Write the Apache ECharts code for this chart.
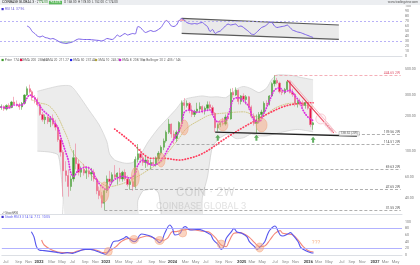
<!DOCTYPE html>
<html>
<head>
<meta charset="utf-8">
<title>COIN 2W</title>
<script src="https://cdn.jsdelivr.net/npm/echarts@6.0.0/dist/echarts.min.js"></script>
<style>
html,body{margin:0;padding:0;background:#ffffff;overflow:hidden;}
#chart{width:420px;height:265px;}
</style>
</head>
<body>
<div id="chart"></div>
<script>
// ================= DATA =================
const startDate = '2021-06-21';          // first 2-week bar
const categoryCount = 156;               // bars incl. future space
const categories = (function () {
  const out = [];
  const t0 = Date.parse(startDate + 'T00:00:00Z');
  for (let i = 0; i < categoryCount; i++) out.push(new Date(t0 + i * 14 * 86400000).toISOString().slice(0, 10));
  return out;
})();
const monthNames = ['Jan','Feb','Mar','Apr','May','Jun','Jul','Aug','Sep','Oct','Nov','Dec'];

// 2W candles
const opens = [235,240,228,245,235,262,252,248,238,255, 300,340,320,285,275,248,205,185,195,178,
  190,170,160,125,98,68,62,50,58,88, 78,66,70,65,68,64,66,58,46,42,
  36,46,58,55,63,60,65,58,66,58, 52,55,50,85,95,88,80,84,77,80,
  78,86,96,108,122,145,170,140,128,145, 175,258,245,255,222,205,218,228,240,222,
  232,248,235,210,158,168,172,170,195,188, 315,300,330,265,295,275,290,238,198,172,
  180,205,215,255,250,295,375,400,380,320, 315,335,390,315,305,255,265,255,245,258, 232,168];
const highs = [250,245,250,255,268,290,270,258,262,305, 355,368,330,300,285,260,215,205,200,198,
  205,185,165,130,102,82,70,62,102,116, 84,74,78,72,74,72,70,60,50,45,
  48,62,68,66,76,66,72,68,70,62, 58,60,90,115,105,92,90,88,85,88,
  90,100,112,128,150,187,172,150,150,180, 270,283,270,262,245,225,258,260,245,240,
  265,265,245,215,172,178,192,205,210,340, 345,349,335,300,310,300,295,245,210,205,
  215,225,265,270,300,385,444.65,420,390,335, 345,402,400,340,310,275,280,270,265,262, 238,178];
const lows = [225,220,222,230,232,245,240,225,225,250, 295,310,270,255,240,200,178,170,170,160,
  165,150,120,90,41,55,41,46,55,70, 62,60,62,58,60,56,55,43,39,33,
  31.55,44,52,52,58,52,55,55,56,50, 47,46,48,80,82,75,72,74,70,75,
  74,82,92,102,118,140,130,115,120,138, 170,225,235,210,195,195,210,215,210,205,
  222,225,200,145,147,160,165,165,180,185, 285,295,250,250,260,250,225,190,165,142.6,
  172,195,205,240,245,290,355,370,310,300, 305,330,310,290,240,235,245,235,230,225, 160,152];
const closes = [240,228,245,235,262,252,248,238,255,300, 340,320,285,275,248,205,185,195,178,190,
  170,160,125,98,68,62,50,58,88,78, 66,70,65,68,64,66,58,46,42,36,
  46,58,55,63,60,65,58,66,58,52, 55,50,85,95,88,80,84,77,80,78,
  86,96,108,122,145,170,140,128,145,175, 258,245,255,222,205,218,228,240,222,232,
  248,235,210,158,168,172,170,195,188,315, 300,330,265,295,275,290,238,198,172,180,
  205,215,255,250,295,375,400,380,320,315, 335,390,315,305,255,265,255,245,258,232, 168,174];

// overlay lines: [barIndex, price]
const emaFast = [[0,237],[3,233],[5,247],[8,247],[10,283],[11,300],[13,283],[14,262],[16,225],[19,195],[22,157],[23,133],
  [25,98],[26,84],[27,65],[28,61],[30,69],[33,73],[35,69],[37,57],[39,50],[41,47],[43,55],[45,59],[47,61],[50,59],
  [52,65],[53,76],[55,84],[56,81],[59,76],[61,79],[63,89],[64,98],[66,117],[68,137],[70,167],[71,214],[73,224],
  [76,214],[78,218],[81,224],[82,205],[84,178],[86,178],[88,200],[90,275],[92,285],[94,268],[96,240],[98,185],
  [100,178],[102,212],[104,265],[106,330],[108,345],[110,320],[112,330],[114,295],[116,258],[117,225],[119,195],[121,182]];
const smaMid = [[12,272],[15,257],[18,247],[20,226],[22,195],[24,157],[26,124],[27,105],[29,89],[32,76],[34,65],[38,55],
  [42,50],[46,52],[49,55],[53,61],[57,69],[60,76],[63,84],[64,93],[67,113],[69,129],[72,157],[77,184],[81,203],
  [88,212],[94,216],[100,195],[107,237],[113,256],[121,237]];
const maLong = [[44,154],[48,132],[52,111],[55,95],[58,87],[63,87],[69,84],[73,87],[77,93],[81,104],[85,120],[89,137],
  [94,160],[99,184],[104,211],[109,237],[113,250],[117,256],[121,258]];
const bbUpper = [[14,323],[19,345],[23,360],[27,358],[30,300],[34,224],[38,167],[41,120],[42,95],[44,84],[48,79],[51,80],
  [54,93],[57,120],[61,157],[65,195],[68,230],[70,262],[72,280],[75,289],[78,295],[81,289],[84,290],[87,285],[89,305],
  [91,335],[94,355],[97,340],[100,315],[103,345],[105,410],[107,445],[110,445],[113,440],[116,425],[121,405]];
const bbLower = [[14,100],[19,98],[22,93],[23,70],[24,40],[25,20],[52,20],[53,38],[55,46],[57,47],[59,48],[61,44],[62,30],
  [63,15],[77,15],[78,40],[80,60],[82,110],[85,130],[88,140],[91,128],[94,130],[97,140],[100,135],[103,135],[106,140],
  [109,145],[112,150],[115,153],[118,150],[121,146]];

// horizontal levels
const levelValues = [444.65, 139.56, 114.51, 69.63, 47.65, 31.55];
const levelStarts = [106, 138, 68, 54, 48, 40];
// current-value tags on the price scale
const tagValues = [258, 237.5, 208, 174];
const tagTexts = ['258.04', '237.44', '208.18', '174.00'];

// drawings on the price pane
const supportLine = [[83,145],[138,134.5]];
const downTrend = [[111,402],[129,143]];
const circleMarks = [[40,44.9],[52,60.2],[62,84],[71,159],[86,167],[101,167]];
const pinkCircle = [[124,188]];
const arrowMarks = [[84,130],[99,130],[121,125]];
const supportTag = [[135,141]];

// RSI (14)
const rsi = [[10,60],[11,57],[12,49],[13,45],[14,40],[15,38],[16,40],[17,37],[18,36],[19,34],[20,35],[21,33],[22,30],
  [23,27],[24,26],[25,25],[26,26],[27,27],[28,29],[29,32],[30,34],[32,33],[34,33],[36,32],[38,31],[39,30],[40,32],
  [41,35],[43,33],[44,36],[45,42],[46,39],[48,45],[49,42],[51,45],[52,44],[53,59],[54,57],[55,51],[56,47],[58,51],
  [59,49],[60,50],[62,57],[63,65],[64,71],[65,67],[66,60],[67,59],[68,62],[69,71],[70,75],[71,72],[72,67],[73,65],
  [74,64],[75,65],[76,64],[77,66],[78,67],[79,63],[80,59],[81,49],[82,53],[83,45],[84,48],[85,50],[86,55],[88,64],
  [89,62],[90,63],[91,64],[92,59],[93,60],[95,53],[96,49],[97,44],[98,43],[99,47],[100,52],[101,57],[102,59],[103,62],
  [104,67],[105,67],[106,60],[107,57],[108,58],[109,59],[110,60],[111,62],[112,57],[113,52],[114,50],[115,48],[116,47],
  [117,45],[118,43],[119,41],[120,39],[121,37]];
const rsiChannelTop = [[70,75.4],[131,62]];
const rsiChannelBottom = [[70,45.4],[131,33.4]];

// Stochastic RSI
const stochK = [[11,70],[12,55],[13,25],[14,15],[16,13],[19,10],[21,8],[23,5],[25,7],[27,5],[28,7],[30,13],[32,17],[34,17],
  [36,13],[38,7],[40,2],[41,10],[42,25],[43,40],[45,43],[47,50],[48,55],[49,50],[51,40],[52,43],[53,57],[54,63],[56,60],
  [58,55],[60,43],[61,37],[62,45],[63,65],[65,90],[66,80],[67,60],[69,65],[70,80],[71,85],[73,75],[76,77],[78,73],[80,65],
  [81,60],[82,45],[84,30],[85,17],[86,25],[87,50],[89,70],[90,80],[91,70],[93,65],[95,55],[96,40],[98,25],[99,17],[100,23],
  [102,40],[103,60],[104,75],[106,87],[107,75],[108,60],[109,57],[111,63],[112,67],[113,60],[115,40],[116,23],[118,13],
  [120,7],[121,6]];
const stochD = [[15,45],[16,30],[19,15],[23,7],[27,7],[29,12],[32,17],[34,17],[37,13],[39,7],[41,10],[44,25],[46,40],[49,50],
  [51,47],[54,53],[56,57],[59,50],[62,43],[64,50],[66,70],[67,70],[69,73],[72,77],[75,75],[77,72],[80,70],[81,65],[83,50],
  [85,30],[87,25],[88,40],[90,65],[92,67],[94,63],[96,53],[98,37],[100,25],[102,27],[104,45],[106,65],[108,73],[109,65],
  [111,63],[113,60],[115,45],[117,25],[119,13],[121,9]];
const stochCircles = [[41,10.5],[51,46.5],[61,43.5],[70,66],[85,33],[100,22.5]];
const stochNote = [[122,37]];

// ================= CHART =================
const FONT = 'Roboto, "Noto Sans", "DejaVu Sans", sans-serif';
const chart = echarts.init(document.getElementById('chart'), null, {renderer: 'canvas', width: 420, height: 265});
const lastCat = categories[categoryCount - 1];
const candles = opens.map((o, i) => [o, closes[i], lows[i], highs[i]]);

function xAxisFor(gi, withLabels) {
  return {
    type: 'category', gridIndex: gi, data: categories, boundaryGap: true,
    axisLine: {show: true, lineStyle: {color: '#dcdfe4', width: 1}},
    axisTick: {show: false}, splitLine: {show: false},
    axisLabel: withLabels ? {
      interval: (idx, val) => { const m = +val.slice(5, 7), d = +val.slice(8, 10); return (m % 2 === 1) && d <= 14; },
      formatter: (val) => { const m = +val.slice(5, 7); return m === 1 ? '{y|' + val.slice(0, 4) + '}' : monthNames[m - 1]; },
      rich: {y: {fontWeight: 'bold', color: '#444', fontSize: 4, fontFamily: FONT}},
      fontSize: 4, color: '#8a8a8a', margin: 2, fontFamily: FONT
    } : {show: false}
  };
}
const yLabel = {fontSize: 3.5, color: '#777', margin: 3, fontFamily: FONT};

function dotted(name, data, color, width, dash, z) {
  return {type: 'line', name, xAxisIndex: 1, yAxisIndex: 1, data, symbol: 'none', smooth: 0.35, silent: true, z: z || 3,
    lineStyle: {color, width, type: dash, cap: 'round'}};
}
function segment(data, color, width, xi, yi) {
  return {type: 'line', xAxisIndex: xi, yAxisIndex: yi, data, symbol: 'none', silent: true, z: 5,
    lineStyle: {color, width}};
}
function tag(v, text, bg, fg) {
  return {yAxis: v, lineStyle: {opacity: 0}, label: {show: true, position: 'end', formatter: text, fontSize: 3.4, color: fg,
    backgroundColor: bg, padding: [0.6, 1.2], distance: 1.5, fontFamily: FONT}};
}

const mainCircleSizes = [[9,20],[8,19],[8,14],[8,15],[10,12],[11,14]];
const stochCircleSizes = [[8,8],[9,8],[9,8],[8,8],[8,8],[8,9]];
const tagColors = [['#f6d5dc','#c0304c'], ['#f1ecb6','#6b6320'], ['#e58ae9','#ffffff'], ['#e9e86a','#333300']];

const option = {
  animation: false,
  backgroundColor: '#ffffff',
  textStyle: {fontFamily: FONT},
  grid: [
    {left: 0, right: 18, top: 6, height: 50},
    {left: 0, right: 18, top: 58, height: 156},
    {left: 0, right: 18, top: 214, height: 44}
  ],
  xAxis: [xAxisFor(0, false), xAxisFor(1, false), xAxisFor(2, true)],
  yAxis: [
    {type: 'value', gridIndex: 0, position: 'right', min: 0, max: 100, interval: 10, axisLabel: yLabel,
      splitLine: {show: false}, axisLine: {show: false}, axisTick: {show: false}},
    {type: 'log', logBase: 2, gridIndex: 1, position: 'right', min: 29.17, max: 620.4,
      axisLabel: Object.assign({}, yLabel, {customValues: [40, 60, 100, 200, 300, 500], formatter: v => (+v).toFixed(2)}),
      splitLine: {show: false}, axisLine: {show: false}, axisTick: {show: false}},
    {type: 'value', gridIndex: 2, position: 'right', min: -9, max: 123,
      axisLabel: Object.assign({}, yLabel, {customValues: [0, 20, 40, 60, 80, 100]}),
      splitLine: {show: false}, axisLine: {show: false}, axisTick: {show: false}}
  ],
  series: [
    // ---------- RSI pane ----------
    {type: 'custom', xAxisIndex: 0, yAxisIndex: 0, z: 1, silent: true, clip: true, data: [[0, 50]],
      renderItem: (params, api) => {
        const t = rsiChannelTop.map(p => api.coord(p));
        const b = rsiChannelBottom.map(p => api.coord(p));
        return {type: 'group', children: [
          {type: 'polygon', shape: {points: [t[0], t[1], b[1], b[0]]}, style: {fill: 'rgba(190,190,190,0.32)'}},
          {type: 'line', shape: {x1: t[0][0], y1: t[0][1], x2: t[1][0], y2: t[1][1]}, style: {stroke: '#5a5a5a', lineWidth: 1.2}},
          {type: 'line', shape: {x1: b[0][0], y1: b[0][1], x2: b[1][0], y2: b[1][1]}, style: {stroke: '#5a5a5a', lineWidth: 1.2}}
        ]};
      }},
    {type: 'line', xAxisIndex: 0, yAxisIndex: 0, data: rsi.map(p => [p[0], Math.min(p[1], 30)]), symbol: 'none', silent: true, z: 2,
      lineStyle: {width: 0}, areaStyle: {origin: 30, color: 'rgba(76,175,80,0.45)'}},
    {type: 'line', xAxisIndex: 0, yAxisIndex: 0, data: rsi.map(p => [p[0], Math.max(p[1], 70)]), symbol: 'none', silent: true, z: 2,
      lineStyle: {width: 0}, areaStyle: {origin: 70, color: 'rgba(242,54,69,0.55)'}},
    {type: 'line', name: 'RSI', xAxisIndex: 0, yAxisIndex: 0, data: rsi, symbol: 'none', smooth: 0.2, silent: true, z: 4,
      lineStyle: {color: '#7b61e8', width: 1},
      markLine: {symbol: ['none', 'none'], silent: true, animation: false,
        data: [
          {yAxis: 70, lineStyle: {color: '#a79ef5', type: [2, 2], width: 0.8}, label: {show: false}},
          {yAxis: 30, lineStyle: {color: '#a79ef5', type: [2, 2], width: 0.8}, label: {show: false}},
          tag(rsi[rsi.length - 1][1], '37.96', '#7b61e8', '#ffffff')
        ]}},

    // ---------- price pane ----------
    {type: 'custom', xAxisIndex: 1, yAxisIndex: 1, z: 0, silent: true, clip: true, data: [[0, 100]],
      renderItem: (params, api) => {
        const up = bbUpper.map(p => api.coord(p));
        const lo = bbLower.map(p => api.coord(p));
        return {type: 'group', children: [
          {type: 'polygon', shape: {points: up.concat(lo.slice().reverse())}, style: {fill: '#ececec'}},
          {type: 'polyline', shape: {points: up, smooth: 0.25}, style: {stroke: '#cfcfcf', lineWidth: 0.7, fill: null}},
          {type: 'polyline', shape: {points: lo, smooth: 0.25}, style: {stroke: '#cfcfcf', lineWidth: 0.7, fill: null}}
        ]};
      }},
    {type: 'candlestick', name: 'COIN', xAxisIndex: 1, yAxisIndex: 1, data: candles, barWidth: '68%', z: 4,
      itemStyle: {color: '#3d9a2a', color0: '#e5164a', borderColor: '#5aa84a', borderColor0: '#ef7a96', borderWidth: 0.6},
      markLine: {symbol: ['none', 'none'], silent: true, animation: false,
        data: levelValues.map((v, k) => [
          {coord: [categories[levelStarts[k]], v],
            lineStyle: {color: k === 0 ? '#f29aa6' : '#9a9a9a', type: [3, 2], width: 0.8},
            label: {show: true, position: 'insideEndTop', formatter: v.toFixed(2) + ' 2W', fontSize: 3.4, distance: 0.8,
              color: k === 0 ? '#e05a70' : '#555', fontFamily: FONT}},
          {coord: [lastCat, v]}
        ])}},
    dotted('SMA', smaMid, '#c9bd6a', 0.8, [1, 1.4], 3),
    dotted('MA long', maLong, '#ff3b5c', 1.7, [0.5, 2.4], 3),
    dotted('EMA', emaFast, '#de2ee0', 1.7, [0.5, 2.2], 5),
    segment(supportLine, '#222222', 1.4, 1, 1),
    segment(downTrend, '#e8354f', 1.1, 1, 1),
    segment(downTrend.map(p => [p[0] + 1, p[1]]), '#f5a3b1', 0.8, 1, 1),
    {type: 'scatter', xAxisIndex: 1, yAxisIndex: 1, data: circleMarks, z: 6, silent: true,
      symbol: 'circle', symbolSize: (v, p) => mainCircleSizes[p.dataIndex],
      itemStyle: {color: 'rgba(246,165,125,0.6)', borderColor: '#f2a27a', borderWidth: 0.6}},
    {type: 'scatter', xAxisIndex: 1, yAxisIndex: 1, data: pinkCircle, z: 6, silent: true, symbol: 'circle', symbolSize: 10,
      itemStyle: {color: 'rgba(255,210,220,0.25)', borderColor: '#f6b3c0', borderWidth: 0.8}},
    {type: 'scatter', xAxisIndex: 1, yAxisIndex: 1, data: arrowMarks, z: 6, silent: true,
      symbol: 'path://M5,0 L10,5 L7,5 L7,10 L3,10 L3,5 L0,5 Z', symbolSize: [5, 6], itemStyle: {color: '#3a9b3a'}},
    {type: 'scatter', xAxisIndex: 1, yAxisIndex: 1, data: supportTag, z: 7, silent: true, symbolSize: 0,
      label: {show: true, formatter: '138.52 (2W)', fontSize: 3.2, color: '#444', borderColor: '#999', borderWidth: 0.5,
        backgroundColor: '#f4f4f4', padding: [0.6, 1.2], fontFamily: FONT}},
    {type: 'scatter', xAxisIndex: 1, yAxisIndex: 1, data: [[127, 160]], z: 7, silent: true, symbolSize: 0,
      label: {show: true, formatter: '−64.65%', rotate: -48, fontSize: 3.2, color: '#e05a70', backgroundColor: 'rgba(250,220,226,0.9)',
        padding: [0.5, 1], fontFamily: FONT}},
    {type: 'line', xAxisIndex: 1, yAxisIndex: 1, data: [], silent: true,
      markLine: {symbol: ['none', 'none'], silent: true, animation: false,
        data: tagValues.map((v, k) => tag(v, tagTexts[k], tagColors[k][0], tagColors[k][1]))}},

    // ---------- Stoch RSI pane ----------
    {type: 'line', name: 'K', xAxisIndex: 2, yAxisIndex: 2, data: stochK, symbol: 'none', smooth: 0.35, silent: true, z: 4,
      lineStyle: {color: '#5656ee', width: 1.1},
      markLine: {symbol: ['none', 'none'], silent: true, animation: false,
        data: [
          {yAxis: 80, lineStyle: {color: '#a9a9ff', type: 'solid', width: 0.9}, label: {show: false}},
          {yAxis: 20, lineStyle: {color: '#a9a9ff', type: 'solid', width: 0.9}, label: {show: false}},
          tag(5, '7.12', '#5656ee', '#ffffff'),
          tag(14, '10.05', '#f4877a', '#ffffff')
        ]}},
    {type: 'line', name: 'D', xAxisIndex: 2, yAxisIndex: 2, data: stochD, symbol: 'none', smooth: 0.35, silent: true, z: 3,
      lineStyle: {color: '#f4877a', width: 1.1}},
    {type: 'scatter', xAxisIndex: 2, yAxisIndex: 2, data: stochCircles, z: 6, silent: true,
      symbol: 'circle', symbolSize: (v, p) => stochCircleSizes[p.dataIndex],
      itemStyle: {color: 'rgba(246,165,125,0.6)', borderColor: '#f2a27a', borderWidth: 0.6}},
    {type: 'scatter', xAxisIndex: 2, yAxisIndex: 2, data: stochNote, z: 6, silent: true, symbolSize: 0,
      label: {show: true, formatter: '???', fontSize: 6, color: '#f5a06e', fontFamily: FONT}}
  ],
  graphic: [
    // watermark
    {type: 'text', z: 1, left: 176, top: 186, silent: true,
      style: {text: 'COIN · 2W', fontSize: 13, fill: 'rgba(120,120,120,0.22)', fontFamily: FONT}},
    {type: 'text', z: 1, left: 156, top: 202, silent: true,
      style: {text: 'COINBASE GLOBAL 3', fontSize: 9.5, fill: 'rgba(120,120,120,0.22)', fontFamily: FONT}},
    // header strip
    {type: 'rect', z: 10, shape: {x: 0, y: 0, width: 420, height: 5}, style: {fill: '#eceef1'}},
    {type: 'text', z: 11, x: 2, y: 2.6, style: {text: 'COINBASE GLOBAL 3 · 2W', fontSize: 3.4, fill: '#222', verticalAlign: 'middle', fontFamily: FONT}},
    {type: 'rect', z: 11, shape: {x: 38, y: 0.8, width: 10, height: 3.6}, style: {fill: '#f7f7f7', stroke: '#d0d0d0', lineWidth: 0.3}},
    {type: 'text', z: 12, x: 43, y: 2.6, style: {text: '174.00', fontSize: 3.1, fill: '#2e8b2e', align: 'center', verticalAlign: 'middle', fontFamily: FONT}},
    {type: 'rect', z: 11, shape: {x: 49, y: 0.8, width: 13, height: 3.6}, style: {fill: '#5cb85c'}},
    {type: 'text', z: 12, x: 55.5, y: 2.6, style: {text: '+3.57%', fontSize: 3.1, fill: '#fff', align: 'center', verticalAlign: 'middle', fontFamily: FONT}},
    {type: 'text', z: 11, x: 64, y: 2.6, style: {text: 'O 168.00  H 178.00  L 152.00  C 174.00', fontSize: 3.1, fill: '#444', verticalAlign: 'middle', fontFamily: FONT}},
    {type: 'text', z: 11, x: 418, y: 2.6, style: {text: 'www.tradingview.com', fontSize: 3.1, fill: '#555', align: 'right', verticalAlign: 'middle', fontFamily: FONT}},
    // RSI legend
    {type: 'rect', z: 11, shape: {x: 1.5, y: 8, width: 2.2, height: 2.2}, style: {fill: '#3b2bd0'}},
    {type: 'text', z: 11, x: 5, y: 9.1, style: {text: 'RSI 14  37.96', fontSize: 3.3, fill: '#6a5fd8', verticalAlign: 'middle', fontFamily: FONT}},
    // price legend row
    ...[[1.5,'#3d9a2a','Price','174.00'],[20,'#e5164a','EMA 200','258.04'],[43,'#9a9a9a','SMA 20','211.27'],
        [70,'#2424e8','EMA 50','237.44'],[95,'#b0a33a','SMA 10','245.36'],[119,'#d11fd6','EMA 8','208.18'],
        [143,'#9a9a9a','Bollinger 20 2','405 / 146']].flatMap(it => [
      {type: 'rect', z: 11, shape: {x: it[0], y: 58.9, width: 2.2, height: 2.2}, style: {fill: it[1]}},
      {type: 'text', z: 11, x: it[0] + 3.2, y: 60, style: {text: it[2] + '  ' + it[3], fontSize: 3.2, fill: '#666', verticalAlign: 'middle', fontFamily: FONT}}
    ]),
    // stoch legend
    {type: 'text', z: 11, x: 1.5, y: 213, style: {text: '⤢ StochRSI', fontSize: 3.2, fill: '#555', verticalAlign: 'middle', fontFamily: FONT}},
    {type: 'rect', z: 11, shape: {x: 1.5, y: 215.8, width: 2.2, height: 2.2}, style: {fill: '#3b2bd0'}},
    {type: 'text', z: 11, x: 5, y: 217, style: {text: 'Stoch RSI 3 3 14 14  7.12  10.05', fontSize: 3.2, fill: '#5656ee', verticalAlign: 'middle', fontFamily: FONT}}
  ]
};
chart.setOption(option);
</script>
</body>
</html>
